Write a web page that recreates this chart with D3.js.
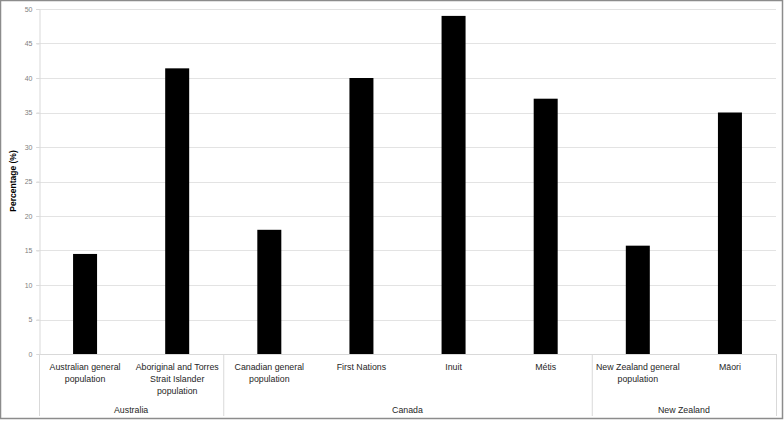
<!DOCTYPE html>
<html><head><meta charset="utf-8">
<script src="https://cdn.jsdelivr.net/npm/d3@7"></script>
<style>body{margin:0;background:#fff}svg{display:block}</style>
</head><body><svg id="c" width="784" height="421"></svg>
<script>
const categories = [
  ["Australian general", "population"],
  ["Aboriginal and Torres", "Strait Islander", "population"],
  ["Canadian general", "population"],
  ["First Nations"],
  ["Inuit"],
  ["Métis"],
  ["New Zealand general", "population"],
  ["Māori"]
];
const values = [14.5, 41.4, 18, 40, 49, 37, 15.7, 35];
const groups = ["Australia", "Canada", "New Zealand"];
const groupSizes = [2, 4, 2];
const yTicks = [0, 5, 10, 15, 20, 25, 30, 35, 40, 45, 50];

const svg = d3.select("#c");
const m = {l: 39, r: 776, t: 9, b: 354};
const font = "'Liberation Sans', Arial, sans-serif";
const x = d3.scaleBand().domain(d3.range(categories.length)).range([m.l, m.r]).paddingInner(0).paddingOuter(0);
const y = d3.scaleLinear().domain([0, 50]).range([m.b, m.t]);

// gridlines
svg.append("g").selectAll("line").data(yTicks.slice(1)).join("line")
  .attr("x1", m.l - 3).attr("x2", m.r)
  .attr("y1", d => Math.round(y(d)) + 0.5).attr("y2", d => Math.round(y(d)) + 0.5)
  .attr("stroke", "#e3e3e3").attr("stroke-width", 1);

// y axis
const ya = svg.append("g").attr("transform", `translate(${m.l + 0.5},0)`)
  .call(d3.axisLeft(y).tickValues(yTicks).tickSize(3).tickPadding(4));
ya.select(".domain").attr("stroke", "#d9d9d9");
ya.selectAll(".tick line").attr("stroke", "#d9d9d9");
ya.selectAll("text").attr("font-family", font).attr("font-size", 7).attr("fill", "#7f7f7f");

// x axis line
svg.append("line").attr("x1", m.l).attr("x2", m.r).attr("y1", m.b + 0.5).attr("y2", m.b + 0.5)
  .attr("stroke", "#d9d9d9");

// bars
const bw = 24;
svg.append("g").selectAll("rect").data(values).join("rect")
  .attr("x", (d, i) => x(i) + x.bandwidth() / 2 - bw / 2)
  .attr("width", bw)
  .attr("y", d => y(d))
  .attr("height", d => y(0) - y(d))
  .attr("fill", "#000");

// category labels
const cl = svg.append("g");
categories.forEach((lines, i) => {
  const t = cl.append("text").attr("text-anchor", "middle")
    .attr("font-family", font).attr("font-size", 8.8).attr("fill", "#262626");
  lines.forEach((ln, j) => {
    t.append("tspan").attr("x", x(i) + x.bandwidth() / 2).attr("y", 370 + j * 12.2).text(ln);
  });
});

// group separators and labels
let start = 0;
const seps = [0];
groups.forEach((g, k) => {
  const end = start + groupSizes[k];
  const x0 = x(start), x1 = end < categories.length ? x(end) : m.r;
  seps.push(end);
  svg.append("text").attr("x", (x0 + x1) / 2).attr("y", 413).attr("text-anchor", "middle")
    .attr("font-family", font).attr("font-size", 8.8).attr("fill", "#262626").text(g);
  start = end;
});
svg.append("g").selectAll("line").data(seps).join("line")
  .attr("x1", d => (d < categories.length ? x(d) : m.r) + 0.5)
  .attr("x2", d => (d < categories.length ? x(d) : m.r) + 0.5)
  .attr("y1", m.b).attr("y2", 416)
  .attr("stroke", "#d9d9d9");

// y title
svg.append("text").attr("transform", "translate(16,181) rotate(-90)")
  .attr("text-anchor", "middle").attr("font-family", font).attr("font-size", 8.5)
  .attr("font-weight", "bold").attr("fill", "#000").text("Percentage (%)");

// outer border
svg.append("rect").attr("x", 0.5).attr("y", 0.5).attr("width", 782).attr("height", 418)
  .attr("fill", "none").attr("stroke", "#8c8c8c").attr("stroke-width", 1.5);
</script></body></html>
